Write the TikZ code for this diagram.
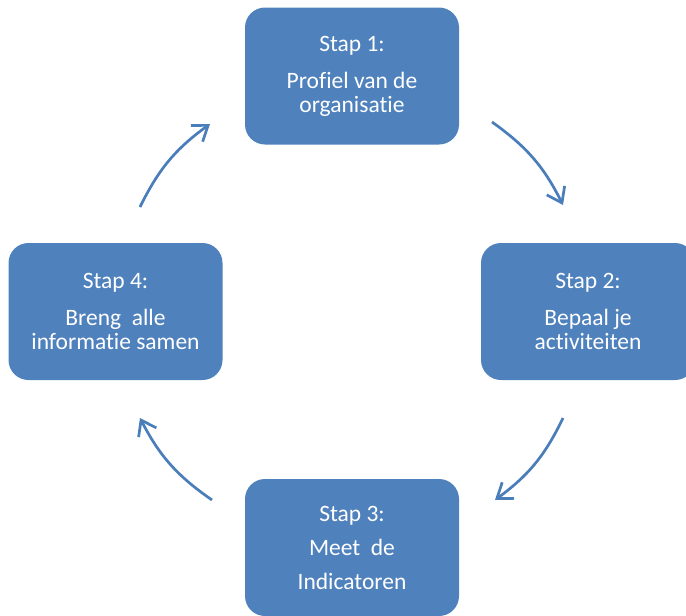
\documentclass[tikz,border=0pt]{standalone}
\usepackage{fontspec}
\setmainfont{Carlito}[RawFeature={-liga;-clig;-dlig}]
\usetikzlibrary{arrows.meta}
\definecolor{boxblue}{HTML}{4F81BD}
\definecolor{arrowblue}{HTML}{4A7EBB}
\begin{document}
\begin{tikzpicture}[x=1pt,y=-1pt,
  stepbox/.style={fill=boxblue, rounded corners=20pt, minimum width=214pt, minimum height=137pt,
    inner sep=0pt, text=white, align=center, font=\fontsize{23.5}{24}\selectfont},
  cyc/.style={draw=arrowblue, line width=2.7pt, -{Straight Barb[length=14pt,width=20pt]}, bend left=14}]
\useasboundingbox (0,0) rectangle (686,616);
\node[stepbox] (s1) at (352,76) {Stap 1:\\[13pt]Profiel van de\\organisatie};
\node[stepbox] (s2) at (588,311.5) {Stap 2:\\[13pt]Bepaal je\\activiteiten};
\node[stepbox] (s3) at (352,547.5) {Stap 3:\\[10pt]Meet\ \ de\\[10pt]Indicatoren};
\node[stepbox] (s4) at (115.5,311.5) {Stap 4:\\[13pt]Breng\ \ alle\\informatie samen};
\coordinate (a1s) at (492,122);
\coordinate (a1e) at (563,205);
\coordinate (a2s) at (563,418);
\coordinate (a2e) at (495,500);
\coordinate (a3s) at (212,500);
\coordinate (a3e) at (140,418);
\coordinate (a4s) at (140,207);
\coordinate (a4e) at (210,124);
\draw[cyc] (a1s) to (a1e);
\draw[cyc] (a2s) to (a2e);
\draw[cyc] (a3s) to (a3e);
\draw[cyc] (a4s) to (a4e);
\end{tikzpicture}
\end{document}
